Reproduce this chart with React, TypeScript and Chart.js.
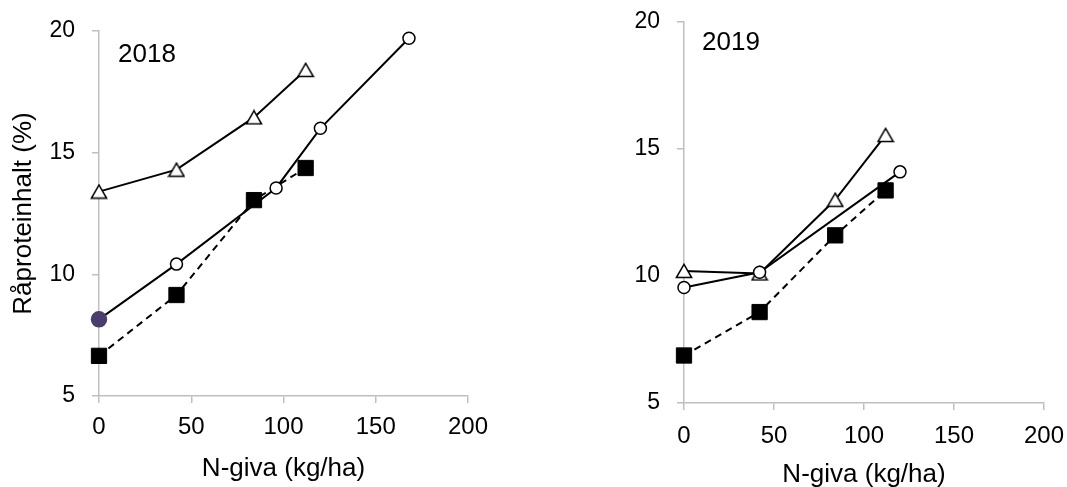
import React, { useEffect, useRef } from "react";
import { Chart, registerables } from "chart.js";
Chart.register(...registerables);

// ---- Data ----
const nTri2018 = [0, 42, 84, 112];
const protTri2018 = [13.4, 14.3, 16.45, 18.4];
const nCirc2018 = [0, 42, 96, 120, 168];
const protCirc2018 = [8.15, 10.42, 13.55, 16.0, 19.7];
const nSq2018 = [0, 42, 84, 112];
const protSq2018 = [6.65, 9.15, 13.05, 14.37];

const nTri2019 = [0, 42, 84, 112];
const protTri2019 = [10.2, 10.1, 13.0, 15.55];
const nCirc2019 = [0, 42, 120];
const protCirc2019 = [9.55, 10.15, 14.1];
const nSq2019 = [0, 42, 84, 112];
const protSq2019 = [6.87, 8.58, 11.6, 13.37];

const xTicks = [0, 50, 100, 150, 200];
const yTicks = [5, 10, 15, 20];

const xTitle = "N-giva (kg/ha)";
const yTitle = "Råproteinhalt (%)";

const FONT = "'Liberation Sans', Arial, sans-serif";
const AXIS_GREY = "#bfbfbf";
const PURPLE = "#4b3d6c";

function zip(xs: number[], ys: number[]) {
  return xs.map((x, i) => ({ x, y: ys[i] }));
}

function makeTriangle(): HTMLCanvasElement {
  const c = document.createElement("canvas");
  c.width = 18;
  c.height = 16;
  const ctx = c.getContext("2d")!;
  ctx.beginPath();
  ctx.moveTo(9, 1.4);
  ctx.lineTo(1.4, 14.6);
  ctx.lineTo(16.6, 14.6);
  ctx.closePath();
  ctx.fillStyle = "#fff";
  ctx.fill();
  ctx.lineWidth = 1.5;
  ctx.strokeStyle = "#000";
  ctx.stroke();
  return c;
}

const yearLabelPlugin = {
  id: "yearLabel",
  afterDatasetsDraw(chart: any, _args: any, opts: any) {
    if (!opts || !opts.text) return;
    const { ctx, chartArea } = chart;
    ctx.save();
    ctx.font = `26px ${FONT}`;
    ctx.fillStyle = "#000";
    ctx.textBaseline = "alphabetic";
    ctx.textAlign = "left";
    ctx.fillText(opts.text, chartArea.left + opts.dx, chartArea.top + opts.dy);
    ctx.restore();
  },
};

type PanelProps = {
  left: number;
  width: number;
  year: string;
  tri: { x: number; y: number }[];
  circ: { x: number; y: number }[];
  sq: { x: number; y: number }[];
  firstCircleFilled: boolean;
  showYTitle: boolean;
  pad: { left: number; right: number; top: number; bottom: number };
  yWidth: number;
  xHeight: number;
  xTickPad: number;
  xTitlePadBottom: number;
  yTitlePadTop: number;
  labelDx: number;
  labelDy: number;
};

function Panel(p: PanelProps) {
  const ref = useRef<HTMLCanvasElement>(null);
  useEffect(() => {
    const canvas = ref.current!;
    const tri = makeTriangle();
    const circRadius = p.circ.map((_, i) => (i === 0 && p.firstCircleFilled ? 7.5 : 6));
    const circBg = p.circ.map((_, i) => (i === 0 && p.firstCircleFilled ? PURPLE : "#fff"));
    const circBorder = p.circ.map((_, i) => (i === 0 && p.firstCircleFilled ? PURPLE : "#000"));
    const chart = new Chart(canvas, {
      type: "line",
      data: {
        datasets: [
          {
            data: p.circ,
            borderColor: "#000",
            borderWidth: 2,
            pointStyle: "circle",
            pointRadius: circRadius,
            pointBackgroundColor: circBg,
            pointBorderColor: circBorder,
            pointBorderWidth: 1.5,
            tension: 0,
            fill: false,
            clip: false,
          } as any,
          {
            data: p.tri,
            borderColor: "#000",
            borderWidth: 2,
            pointStyle: tri,
            pointRadius: 8,
            tension: 0,
            fill: false,
            clip: false,
          } as any,
          {
            data: p.sq,
            borderColor: "#000",
            borderWidth: 2,
            borderDash: [7, 5],
            pointStyle: "rect",
            pointRadius: 10.8,
            pointBackgroundColor: "#000",
            pointBorderColor: "#000",
            pointBorderWidth: 1,
            tension: 0,
            fill: false,
            clip: false,
          } as any,
        ],
      },
      options: {
        responsive: false,
        animation: false,
        devicePixelRatio: 1,
        events: [],
        layout: { padding: p.pad },
        plugins: {
          legend: { display: false },
          tooltip: { enabled: false },
          yearLabel: { text: p.year, dx: p.labelDx, dy: p.labelDy },
        } as any,
        scales: {
          x: {
            type: "linear",
            min: xTicks[0],
            max: xTicks[xTicks.length - 1],
            afterBuildTicks: (s: any) => {
              s.ticks = xTicks.map((v) => ({ value: v }));
            },
            afterFit: (s: any) => {
              s.height = p.xHeight;
              s.paddingLeft = 0;
              s.paddingRight = 0;
            },
            ticks: {
              font: { family: FONT, size: 24 },
              color: "#000",
              padding: p.xTickPad,
              maxRotation: 0,
            },
            grid: {
              drawOnChartArea: false,
              drawTicks: true,
              tickLength: 7,
              color: AXIS_GREY,
              lineWidth: 1.5,
            },
            border: { display: true, color: AXIS_GREY, width: 1.5 },
            title: {
              display: true,
              text: xTitle,
              font: { family: FONT, size: 26 },
              color: "#000",
              padding: { top: 0, bottom: p.xTitlePadBottom },
            },
          },
          y: {
            type: "linear",
            min: yTicks[0],
            max: yTicks[yTicks.length - 1],
            afterBuildTicks: (s: any) => {
              s.ticks = yTicks.map((v) => ({ value: v }));
            },
            afterFit: (s: any) => {
              s.width = p.yWidth;
              s.paddingTop = 0;
              s.paddingBottom = 0;
            },
            ticks: {
              font: { family: FONT, size: 23 },
              color: "#000",
              padding: 17,
            },
            grid: {
              drawOnChartArea: false,
              drawTicks: true,
              tickLength: 7,
              color: AXIS_GREY,
              lineWidth: 1.5,
            },
            border: { display: true, color: AXIS_GREY, width: 1.5 },
            title: {
              display: p.showYTitle,
              text: yTitle,
              font: { family: FONT, size: 26 },
              color: "#000",
              padding: { top: p.yTitlePadTop, bottom: 0 },
            },
          },
        },
      } as any,
      plugins: [yearLabelPlugin],
    });
    return () => chart.destroy();
  }, []);
  return (
    <div style={{ position: "absolute", left: p.left, top: 0, width: p.width, height: 487 }}>
      <canvas ref={ref} width={p.width} height={487} style={{ width: p.width, height: 487, display: "block" }} />
    </div>
  );
}

export default function App() {
  return (
    <div style={{ position: "absolute", left: 0, top: 0, width: 1067, height: 487, background: "#fff", overflow: "hidden" }}>
      <Panel
        left={0}
        width={520}
        year="2018"
        tri={zip(nTri2018, protTri2018)}
        circ={zip(nCirc2018, protCirc2018)}
        sq={zip(nSq2018, protSq2018)}
        firstCircleFilled={true}
        showYTitle={true}
        pad={{ left: 0, right: 52, top: 31, bottom: 0 }}
        yWidth={99}
        xHeight={91}
        xTickPad={10}
        xTitlePadBottom={3}
        yTitlePadTop={8}
        labelDx={19}
        labelDy={31}
      />
      <Panel
        left={540}
        width={527}
        year="2019"
        tri={zip(nTri2019, protTri2019)}
        circ={zip(nCirc2019, protCirc2019)}
        sq={zip(nSq2019, protSq2019)}
        firstCircleFilled={false}
        showYTitle={false}
        pad={{ left: 0, right: 23, top: 22, bottom: 0 }}
        yWidth={144}
        xHeight={84}
        xTickPad={12}
        xTitlePadBottom={-3}
        yTitlePadTop={0}
        labelDx={18}
        labelDy={28}
      />
    </div>
  );
}
